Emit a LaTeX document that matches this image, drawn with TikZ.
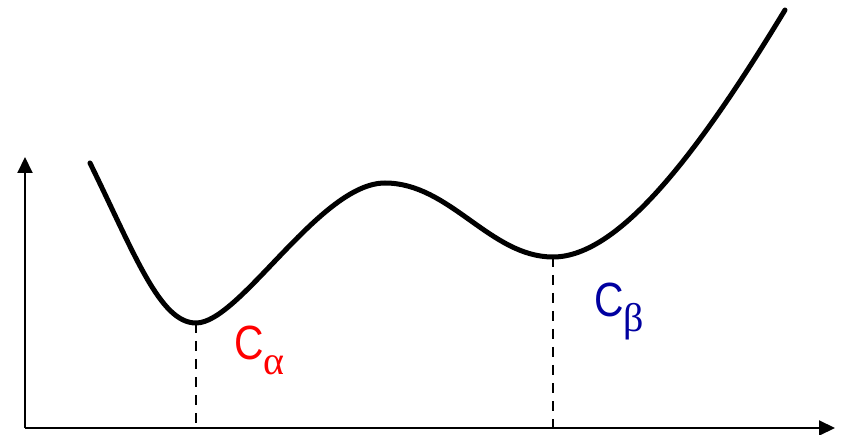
\documentclass[tikz,border=0pt]{standalone}
\usepackage{fontspec}
\setmainfont{Liberation Sans}
\newfontfamily\greekfont{Liberation Serif}
\usetikzlibrary{arrows.meta}
\definecolor{alphared}{RGB}{255,0,0}
\definecolor{betablue}{RGB}{0,0,160}
\newcommand{\phasename}[1]{\scalebox{0.85}[1]{C}\raisebox{-0.3em}{\fontsize{40}{42}\selectfont\greekfont #1}}

\begin{document}
\begin{tikzpicture}[x=1pt, y=-1pt,
    axis/.style={line width=2pt, -{Triangle[length=16pt, width=15pt]}},
    energy/.style={line width=5pt, line cap=round},
    drop/.style={line width=2pt, dash pattern=on 10pt off 8pt},
    phase/.style={font=\fontsize{48}{50}\selectfont, inner sep=0pt, anchor=north west}]
  \useasboundingbox (0,0) rectangle (843,435);
  % axes
  \coordinate (origin) at (25,428);
  \coordinate (ytop) at (25,157);
  \coordinate (xend) at (835,428);
  \draw[axis] (origin) -- (ytop);
  \draw[axis] (origin) -- (xend);

  % free energy curve
  \coordinate (start) at (90,163);
  \coordinate (mina) at (196,323);
  \coordinate (hump) at (385,183);
  \coordinate (minb) at (553,257);
  \coordinate (stop) at (785,10);
  \draw[energy] (start) .. controls (135,255) and (160,323) .. (mina)
    .. controls (240,323) and (320,183) .. (hump)
    .. controls (450,183) and (490,257) .. (minb)
    .. controls (620,257) and (700,150) .. (stop);

  % drop lines
  \coordinate (basea) at (196,428);
  \coordinate (baseb) at (553,428);
  \draw[drop] (mina) -- (basea);
  \draw[drop] (minb) -- (baseb);

  % labels
  \node[phase, text=alphared] (calpha) at (234,326) {\phasename{α}};
  \node[phase, text=betablue] (cbeta) at (594,283) {\phasename{β}};
\end{tikzpicture}
\end{document}
